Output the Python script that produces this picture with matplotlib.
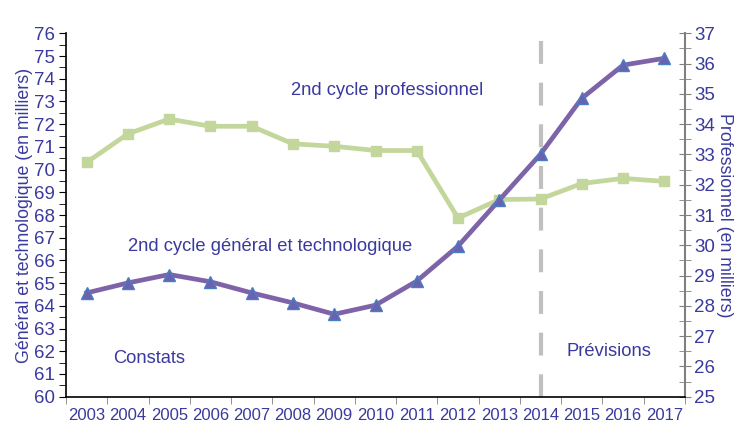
import matplotlib
matplotlib.use("Agg")
import matplotlib.pyplot as plt
from matplotlib.ticker import MultipleLocator

# data
annees = ['2003', '2004', '2005', '2006', '2007', '2008', '2009', '2010',
          '2011', '2012', '2013', '2014', '2015', '2016', '2017']
general = [64.57, 65.01, 65.38, 65.06, 64.57, 64.13, 63.63, 64.03,
           65.09, 66.63, 68.66, 70.68, 73.14, 74.6, 74.9]
professionnel = [32.74, 33.68, 34.17, 33.93, 33.93, 33.35, 33.27, 33.13,
                 33.13, 30.9, 31.51, 31.53, 32.04, 32.21, 32.11]
annee_prevision = '2014'

txt = '#3A3A9E'
plt.rcParams['font.family'] = ['Liberation Sans', 'DejaVu Sans']

fig = plt.figure(figsize=(7.37, 4.25), dpi=100)
ax = fig.add_axes([0.0896, 0.0666, 0.8398, 0.855])
ax2 = ax.twinx()

x = list(range(len(annees)))

# green line (right axis)
ax2.plot(x, professionnel, color='#C3D69B', lw=3.4, marker='s', ms=6.5,
         mfc='#C3D69B', mec='#C3D69B', zorder=2)
# purple line (left axis) drawn above
ax.set_zorder(ax2.get_zorder() + 1)
ax.patch.set_visible(False)
ax.plot(x, general, color='#7F63A8', lw=3.4, marker='^', ms=8,
        mfc='#6A62B0', mec='#4A7EC0', mew=1, zorder=3)

# prevision line
xp = annees.index(annee_prevision)
ax.plot([xp, xp], [75.65, 59.4], color='#C0C0C0', lw=3,
        dashes=(5.5, 4.5), clip_on=False, zorder=1)

ax.set_xlim(-0.5, len(annees) - 0.5)
ax.set_ylim(60, 76)
ax2.set_ylim(25, 37)

ax.set_xticks(x)
ax.set_xticklabels(annees, fontsize=12, color=txt)
ax.set_xticks([i - 0.5 for i in range(len(annees) + 1)], minor=True)
ax.tick_params(axis='x', which='major', length=0, pad=8)
ax.tick_params(axis='x', which='minor', length=5, color='#808080', direction='out')

ax.yaxis.set_major_locator(MultipleLocator(1))
ax.yaxis.set_minor_locator(MultipleLocator(0.5))
ax.tick_params(axis='y', which='both', length=5, color='black', direction='out',
               labelsize=13.5, labelcolor=txt, pad=3)
ax2.yaxis.set_major_locator(MultipleLocator(1))
ax2.yaxis.set_minor_locator(MultipleLocator(0.5))
ax2.tick_params(axis='y', which='both', length=9, color='#808080', direction='inout',
                labelsize=13.5, labelcolor=txt, pad=2)

for a in (ax, ax2):
    a.spines['top'].set_visible(False)
ax.spines['right'].set_visible(False)
ax2.spines['left'].set_visible(False)
ax2.spines['bottom'].set_visible(False)
ax2.spines['right'].set_color('#808080')
ax2.spines['right'].set_linewidth(1.5)
ax.spines['left'].set_linewidth(1.2)
ax.spines['bottom'].set_linewidth(1.2)

ax.set_ylabel('Général et technologique (en milliers)', fontsize=12.8,
              color=txt, labelpad=1)
ax2.set_ylabel('Professionnel (en milliers)', fontsize=12.8, color=txt,
               rotation=-90, labelpad=13)

ax.text(4.95, 73.5, '2nd cycle professionnel', fontsize=13.2, color=txt, va='center')
ax.text(1.0, 66.6, '2nd cycle général et technologique', fontsize=13.2,
        color=txt, va='center')
ax.text(0.64, 61.7, 'Constats', fontsize=13.2, color=txt, va='center')
ax.text(11.63, 61.97, 'Prévisions', fontsize=13.2, color=txt, va='center')

fig.savefig('out.png', dpi=100)
